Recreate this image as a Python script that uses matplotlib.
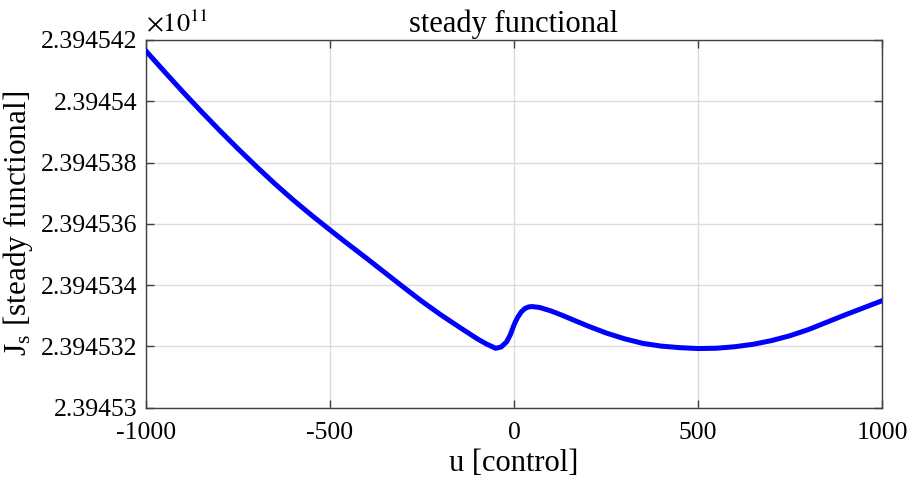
import numpy as np
import matplotlib
matplotlib.use('Agg')
import matplotlib.pyplot as plt

#-------------------------------Data------------------------------------------------------------
#Control values u
u_control = [-1000, -950, -900, -850, -800, -750, -700, -650, -600, -550, -500,
             -450, -400, -350, -300, -250, -200, -150, -100, -75, -50, -35, -20, -10, -5,
             0, 5, 10, 20, 30, 40, 50, 70, 100, 130, 160, 200, 250, 300, 350, 400, 450,
             500, 550, 600, 650, 700, 750, 800, 850, 900, 950, 1000]

#Steady functional, in units of 1e5 above 2.39453e11
js_offset = [11.64, 10.97, 10.31, 9.67, 9.05, 8.45, 7.87, 7.31, 6.78, 6.28, 5.80,
             5.33, 4.87, 4.40, 3.93, 3.47, 3.04, 2.64, 2.25, 2.08, 1.94, 1.98, 2.15, 2.38, 2.54,
             2.70, 2.83, 2.95, 3.13, 3.24, 3.29, 3.30, 3.27, 3.16, 3.02, 2.87, 2.67, 2.44, 2.25, 2.10, 2.01, 1.96,
             1.93, 1.94, 1.99, 2.07, 2.19, 2.35, 2.55, 2.79, 3.03, 3.26, 3.49]

js_base = 2.39453e11
js_values = [js_base + v * 1e5 for v in js_offset]

x_ticks = [-1000, -500, 0, 500, 1000]
x_tick_labels = ['-1000', '-500', '0', '500', '1000']
y_ticks = [2.39453e11, 2.394532e11, 2.394534e11, 2.394536e11, 2.394538e11, 2.39454e11, 2.394542e11]
y_tick_labels = ['2.39453', '2.394532', '2.394534', '2.394536', '2.394538', '2.39454', '2.394542']

#-------------------------------Plotting-------------------------------------
plt.rcParams['font.family'] = ['Liberation Serif', 'DejaVu Serif']
plt.rcParams['mathtext.fontset'] = 'stix'

fig = plt.figure(figsize=(9.11, 4.78), dpi=100)
ax = fig.add_axes([146/911, 1-407.7/478, (882-146)/911, (407.7-40)/478])

ax.plot(u_control, js_values, color=(0, 0, 1), linewidth=3.6, solid_joinstyle='round', zorder=3)

ax.set_xlim(-1000, 1000)
ax.set_ylim(2.39453e11, 2.394542e11)
ax.set_xticks(x_ticks)
ax.set_xticklabels(x_tick_labels)
ax.set_yticks(y_ticks)
ax.set_yticklabels(y_tick_labels)

ax.grid(True, color='#dcdcdc', linewidth=1.0)
ax.set_axisbelow(True)
ax.tick_params(direction='in', length=6, width=1.0, color='#404040',
               top=True, right=True, labelsize=18.5)
ax.tick_params(axis='x', pad=10)
ax.tick_params(axis='y', pad=6)
for s in ax.spines.values():
    s.set_color('#404040')
    s.set_linewidth(1.0)

ax.set_title('steady functional', fontsize=22, pad=6)
ax.set_xlabel('u [control]', fontsize=22, labelpad=4)
ax.set_ylabel(r'J$_\mathregular{s}$ [steady functional]', fontsize=22.5)
ax.yaxis.set_label_coords(-0.151, 0.5)

#multiplier text like MATLAB
ax.text(0, 1.01, r'$\times 10^{11}$', transform=ax.transAxes, fontsize=19,
        ha='left', va='bottom')

plt.savefig('out.png', dpi=100)
